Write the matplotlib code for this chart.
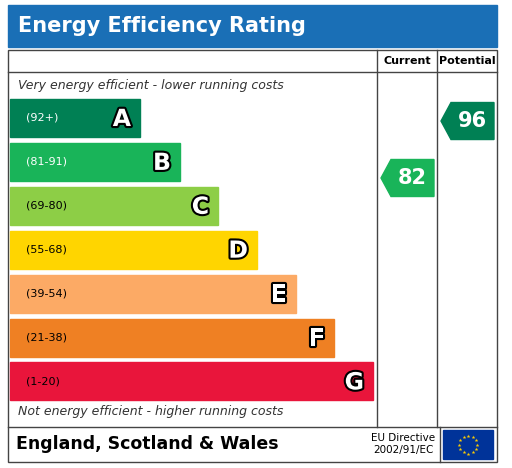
import matplotlib
matplotlib.use('Agg')
import matplotlib.pyplot as plt
from matplotlib.patches import Rectangle, Polygon
import matplotlib.patheffects as pe
import numpy as np

# ── Данные ────────────────────────────────────────────────────────────────
letters = ['A', 'B', 'C', 'D', 'E', 'F', 'G']
ranges = ['(92+)', '(81-91)', '(69-80)', '(55-68)', '(39-54)', '(21-38)', '(1-20)']
colors = ['#008054', '#19b459', '#8dce46', '#ffd500', '#fcaa65', '#ef8023', '#e9153b']
bar_right = [140, 180, 218, 257, 296, 334, 373]
current = 82
potential = 96

def band_of(v):
    lows = [92, 81, 69, 55, 39, 21, 1]
    for i, lo in enumerate(lows):
        if v >= lo:
            return i
    return 6

fig = plt.figure(figsize=(5.12, 4.68), dpi=100)
ax = fig.add_axes([0, 0, 1, 1])
ax.set_xlim(0, 512)
ax.set_ylim(468, 0)
ax.axis('off')

# заголовок
ax.add_patch(Rectangle((8, 5), 489, 42, color='#1a6fb6'))
ax.text(18, 26, 'Energy Efficiency Rating', color='white', fontsize=15,
        fontweight='bold', va='center')

# рамка и сетка
lc = '#444444'
ax.add_patch(Rectangle((8, 50), 489, 412, fill=False, ec=lc, lw=1))
ax.plot([8, 497], [72, 72], color=lc, lw=1)
ax.plot([8, 497], [427, 427], color=lc, lw=1)
for x in (377, 437):
    ax.plot([x, x], [50, 427], color=lc, lw=1)
ax.text(407, 61, 'Current', ha='center', va='center', fontsize=8, fontweight='bold')
ax.text(467, 61, 'Potential', ha='center', va='center', fontsize=8, fontweight='bold')

ax.text(18, 86, 'Very energy efficient - lower running costs', fontsize=9,
        style='italic', color='#333333', va='center')
ax.text(18, 412, 'Not energy efficient - higher running costs', fontsize=9,
        style='italic', color='#333333', va='center')

top0, step, h = 99, 43.9, 38
for i, (L, r, c, xr) in enumerate(zip(letters, ranges, colors, bar_right)):
    y = top0 + i * step
    ax.add_patch(Rectangle((10, y), xr - 10, h, color=c))
    tc = 'white' if i in (0, 1) else 'black'
    ax.text(26, y + h / 2, r, fontsize=8, color=tc, va='center')
    t = ax.text(xr - 9, y + h / 2 + 1, L, fontsize=17, fontweight='bold',
                color='white', ha='right', va='center')
    t.set_path_effects([pe.Stroke(linewidth=3, foreground='black'), pe.Normal()])

def arrow(x0, x1, v):
    i = band_of(v)
    yc = 178 + (82 - v) * 4.07
    hh = 37
    y = yc - hh / 2
    pts = [(x0, yc), (x0 + 10, y), (x1, y), (x1, y + hh), (x0 + 10, y + hh)]
    ax.add_patch(Polygon(pts, color=colors[i]))
    ax.text((x0 + x1) / 2 + 5, yc, str(v), color='white', fontsize=15,
            fontweight='bold', ha='center', va='center')

arrow(381, 434, current)
arrow(441, 494, potential)

ax.plot([440, 440], [427, 462], color=lc, lw=1)
ax.text(16, 444, 'England, Scotland & Wales', fontsize=12.5, fontweight='bold', va='center')
ax.text(403, 444, 'EU Directive\n2002/91/EC', fontsize=7.5, ha='center', va='center',
        linespacing=1.2)
ax.add_patch(Rectangle((443, 430), 50, 29, color='#003399'))
ang = np.linspace(0, 2 * np.pi, 13)[:-1]
ax.scatter(468 + 9 * np.cos(ang), 444.5 + 9 * np.sin(ang), marker='*', s=8,
           color='#ffcc00', lw=0)

fig.savefig('out.png', dpi=100)
